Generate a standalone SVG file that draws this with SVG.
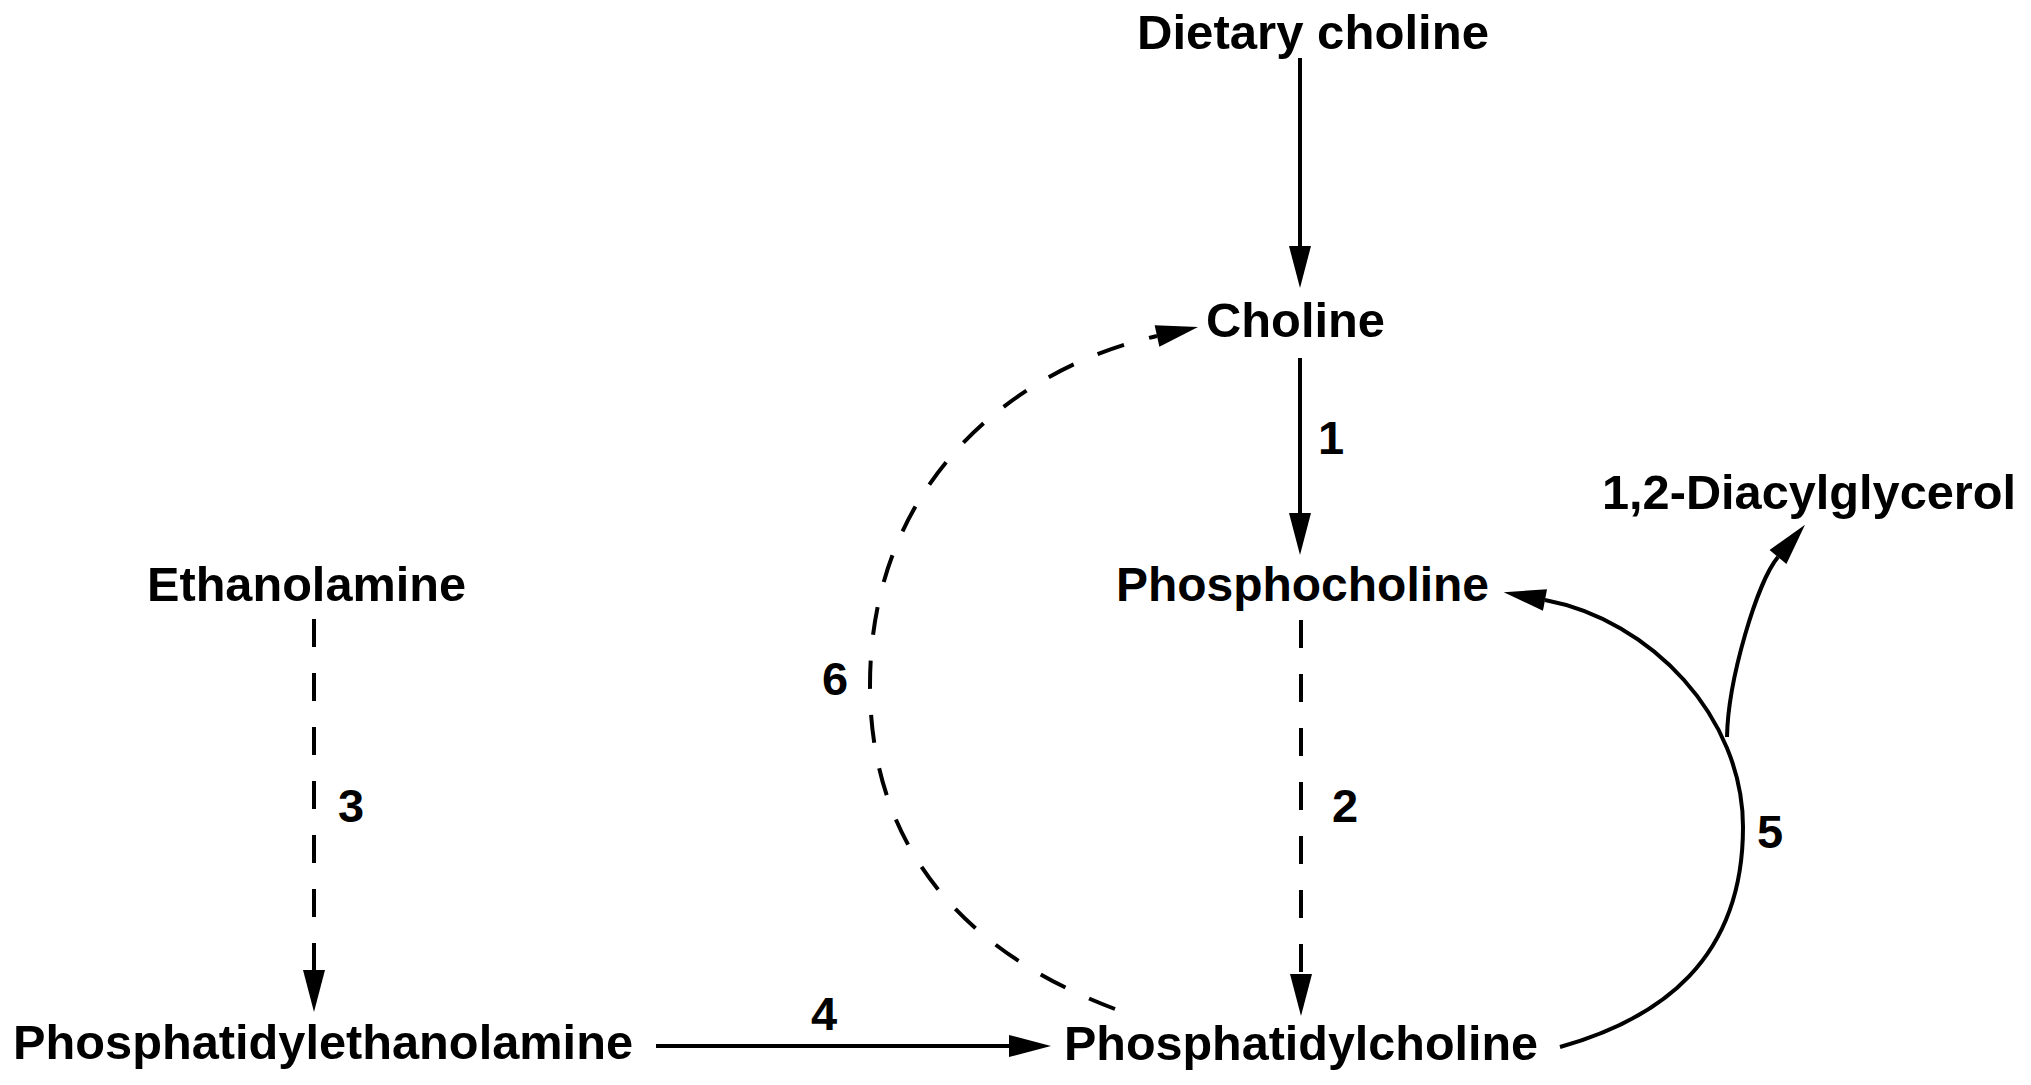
<svg xmlns="http://www.w3.org/2000/svg" width="2031" height="1085" viewBox="0 0 2031 1085">
<style>
.t{font-family:"Liberation Sans",Arial,sans-serif;font-weight:bold;font-size:48px;fill:#000}
.n{font-family:"Liberation Sans",Arial,sans-serif;font-weight:bold;font-size:47px;fill:#000;text-anchor:middle}
.c{fill:none;stroke:#000;stroke-width:4}
.d{stroke-dasharray:28 26}
</style>
<defs>
<marker id="ah" markerUnits="userSpaceOnUse" markerWidth="46" markerHeight="26" viewBox="0 -13 46 26" refX="0" refY="0" orient="auto" overflow="visible">
<path d="M0,-11 L42,0 L0,11 z" fill="#000"/>
</marker>
</defs>
<rect width="2031" height="1085" fill="#fff"/>
<g id="node-dietary-choline"><text class="t" x="1137" y="49" textLength="352" lengthAdjust="spacingAndGlyphs">Dietary choline</text></g>
<g id="node-choline"><text class="t" x="1206" y="337" textLength="179" lengthAdjust="spacingAndGlyphs">Choline</text></g>
<g id="node-phosphocholine"><text class="t" x="1116" y="601" textLength="373" lengthAdjust="spacingAndGlyphs">Phosphocholine</text></g>
<g id="node-diacylglycerol"><text class="t" x="1602" y="509" textLength="414" lengthAdjust="spacingAndGlyphs">1,2-Diacylglycerol</text></g>
<g id="node-ethanolamine"><text class="t" x="147" y="601" textLength="319" lengthAdjust="spacingAndGlyphs">Ethanolamine</text></g>
<g id="node-phosphatidylethanolamine"><text class="t" x="13" y="1059" textLength="620" lengthAdjust="spacingAndGlyphs">Phosphatidylethanolamine</text></g>
<g id="node-phosphatidylcholine"><text class="t" x="1064" y="1060" textLength="474" lengthAdjust="spacingAndGlyphs">Phosphatidylcholine</text></g>
<g id="connectors">
<path class="c" d="M1300,58 L1300,246" marker-end="url(#ah)"/>
<path class="c" d="M1300,358 L1300,513" marker-end="url(#ah)"/>
<path class="c d" d="M1301,620 L1301,974" marker-end="url(#ah)"/>
<path class="c d" d="M314,619 L314,970" marker-end="url(#ah)"/>
<path class="c" d="M656,1046 L1009,1046" marker-end="url(#ah)"/>
<path class="c d" d="M1115,1009 C985,960 870,865 870,685 C870,480 1017,367 1157,336" marker-end="url(#ah)"/>
<path class="c" d="M1560,1047 C1660,1019 1743,960 1743,827 C1743,717 1651,620 1545,600" marker-end="url(#ah)"/>
<path class="c" d="M1727,737 C1728,680 1757,582 1778,557" marker-end="url(#ah)"/>
</g>
<g id="labels">
<text class="n" x="1331" y="454">1</text>
<text class="n" x="1345" y="822">2</text>
<text class="n" x="351" y="822">3</text>
<text class="n" x="824" y="1030">4</text>
<text class="n" x="1770" y="848">5</text>
<text class="n" x="835" y="695">6</text>
</g>
</svg>
